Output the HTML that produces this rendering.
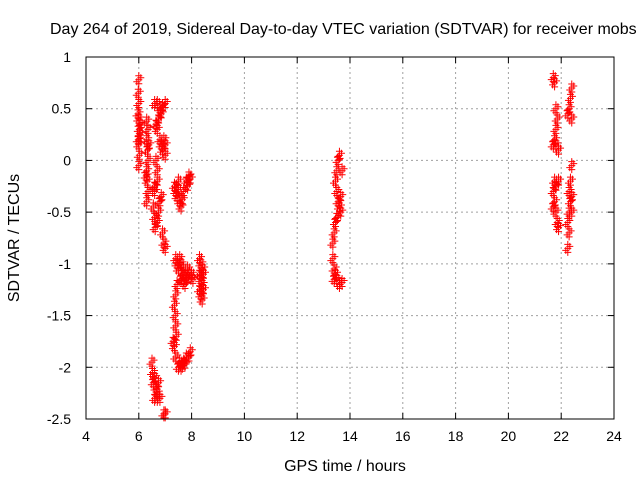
<!DOCTYPE html>
<html><head><meta charset="utf-8"><style>
body{margin:0;background:#fff}
svg{font-family:"Liberation Sans",sans-serif;font-size:13px}
</style></head><body>
<svg id="c" width="640" height="480" xmlns="http://www.w3.org/2000/svg">
<rect width="640" height="480" fill="#fff"/>
<text x="50" y="34" style="font-size:16px">Day 264 of 2019, Sidereal Day-to-day VTEC variation (SDTVAR) for receiver mobs</text>
<text x="345" y="471" style="font-size:16px" text-anchor="middle">GPS time / hours</text>
<text transform="translate(19,238) rotate(-90)" style="font-size:16px" text-anchor="middle">SDTVAR / TECUs</text>
<g id="grid"></g><g id="ticks"></g><g id="pts"></g>
<rect x="86" y="57" width="528" height="362" fill="none" stroke="#000"/>
</svg>
<script>
const xTicks=[4,6,8,10,12,14,16,18,20,22,24];
const yTicks=[1,0.5,0,-0.5,-1,-1.5,-2,-2.5];
const yTickLabels=["1","0.5","0","-0.5","-1","-1.5","-2","-2.5"];
const timeHours=[6.0,5.98,6.0,5.97,6.0,6.02,5.98,6.0,6.02,6.0,6.05,6.05,
6.3,6.35,6.3,6.33,6.35,6.3,6.32,6.35,6.3,6.28,6.38,
6.6,6.7,6.8,6.9,7.0,6.85,6.75,6.65,6.7,6.8,6.85,6.9,7.0,7.0,6.95,
6.6,6.55,6.6,6.62,6.7,6.75,6.8,6.85,6.7,6.7,6.65,6.9,6.95,7.0,6.6,
7.35,7.4,7.45,7.5,7.55,7.6,7.65,7.7,7.8,7.9,7.95,7.85,7.5,
7.4,7.45,7.5,7.55,7.6,7.65,7.7,7.75,7.8,7.9,8.0,8.05,7.85,7.7,7.6,
8.3,8.35,8.3,8.35,8.4,8.3,8.35,8.45,8.45,8.4,8.42,
7.45,7.4,7.35,7.38,7.4,7.42,7.35,7.4,7.3,
7.5,7.55,7.6,7.65,7.7,7.8,7.9,7.95,7.75,
6.5,6.52,6.55,6.6,6.65,6.6,6.7,6.75,6.7,6.8,6.95,7.0,
13.6,13.55,13.5,13.45,13.5,13.55,13.6,13.65,13.7,13.65,13.5,13.45,13.4,13.35,13.35,13.4,13.45,13.5,13.6,13.7,13.4,
21.7,21.75,21.8,21.85,21.8,21.75,21.8,21.9,21.7,21.75,21.8,21.7,21.75,21.8,21.85,21.9,21.7,21.9,
22.4,22.35,22.3,22.25,22.4,22.4,22.35,22.3,22.35,22.3,22.25,22.3,22.25,22.4,22.4];
const sdtvar=[0.78,0.65,0.55,0.45,0.4,0.3,0.2,0.15,0.05,-0.05,0.25,0.35,
0.38,0.3,0.2,0.1,0,-0.1,-0.2,-0.3,-0.4,-0.15,0.15,
0.55,0.55,0.5,0.52,0.55,0.45,0.4,0.35,0.3,0.2,0.15,0.1,0.15,0.05,0.2,
-0.3,-0.45,-0.55,-0.65,-0.6,-0.5,-0.4,-0.35,-0.2,-0.1,0,-0.7,-0.8,-0.85,-0.25,
-0.25,-0.3,-0.35,-0.28,-0.4,-0.45,-0.38,-0.3,-0.2,-0.15,-0.18,-0.25,-0.2,
-0.95,-1.0,-1.05,-0.95,-1.0,-1.1,-1.15,-1.2,-1.15,-1.1,-1.1,-1.15,-1.05,-1.05,-1.15,
-0.95,-1.0,-1.1,-1.15,-1.2,-1.25,-1.3,-1.1,-1.25,-1.35,-1.05,
-1.2,-1.3,-1.4,-1.5,-1.6,-1.7,-1.8,-1.9,-1.75,
-2.0,-1.95,-2.0,-1.98,-1.95,-1.9,-1.9,-1.85,-1.97,
-1.95,-2.05,-2.15,-2.1,-2.2,-2.3,-2.25,-2.15,-2.3,-2.3,-2.45,-2.45,
0.05,0,-0.1,-0.2,-0.3,-0.4,-0.45,-0.35,-0.1,-0.5,-0.55,-0.6,-0.7,-0.8,-0.95,-1.05,-1.1,-1.15,-1.2,-1.18,-1.15,
0.8,0.75,0.5,0.4,0.3,0.2,0.15,0.1,0.15,-0.2,-0.25,-0.3,-0.4,-0.5,-0.6,-0.65,-0.45,-0.2,
0.7,0.6,0.5,0.45,0.4,-0.05,-0.2,-0.3,-0.4,-0.5,-0.6,-0.7,-0.85,-0.5,-0.35];
const X0=86,X1=614,Y0=57,Y1=419;
const sx=v=>X0+(v-4)/20*(X1-X0);
const sy=v=>Y0+(1-v)/3.5*(Y1-Y0);
const NS="http://www.w3.org/2000/svg";
const mk=(t,a,p)=>{const e=document.createElementNS(NS,t);for(const k in a)e.setAttribute(k,a[k]);p.appendChild(e);return e;};
const grid=document.getElementById('grid'),ticks=document.getElementById('ticks'),pts=document.getElementById('pts');
xTicks.forEach(v=>{const x=sx(v);
 if(v>4&&v<24){const g=mk('line',{x1:x,x2:x,y1:Y0,y2:Y1,stroke:'#a0a0a0','stroke-dasharray':'2,3'},grid);
 
 }
 mk('line',{x1:x,x2:x,y1:Y1,y2:Y1-6,stroke:'#000'},ticks);mk('line',{x1:x,x2:x,y1:Y0,y2:Y0+6,stroke:'#000'},ticks);
 const t=mk('text',{x:x,y:Y1+22,'text-anchor':'middle','font-size':'14px'},ticks);t.textContent=v;
 
 });
yTicks.forEach((v,i)=>{const y=sy(v);
 if(v<1&&v>-2.5){const g=mk('line',{x1:X0,x2:X1,y1:y,y2:y,stroke:'#a0a0a0','stroke-dasharray':'2,3'},grid);
 
 }
 mk('line',{x1:X0,x2:X0+6,y1:y,y2:y,stroke:'#000'},ticks);mk('line',{x1:X1,x2:X1-6,y1:y,y2:y,stroke:'#000'},ticks);
 const t=mk('text',{x:X0-15,y:y+5,'text-anchor':'end','font-size':'14px'},ticks);t.textContent=yTickLabels[i];
 
 });
let d='';
timeHours.forEach((h,i)=>{const x=sx(h),y=sy(sdtvar[i]);
 [[0,0],[0,-4],[0,4],[-2,2],[2,-2]].forEach(o=>{const px=x+o[0],py=y+o[1];d+=`M${px-3.5},${py}h7M${px},${py-3.5}v7`;});});
const p=mk('path',{d:d,stroke:'#ff0000','stroke-width':1,fill:'none'},pts);


</script>
</body></html>
